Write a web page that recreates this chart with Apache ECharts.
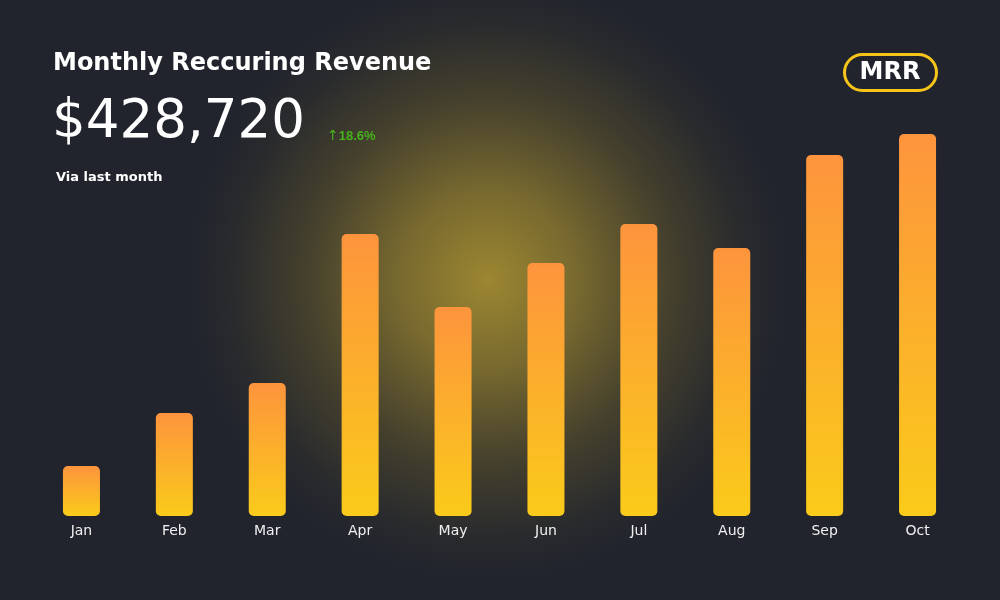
<!DOCTYPE html>
<html>
<head>
<meta charset="utf-8">
<script src="https://cdn.jsdelivr.net/npm/echarts@6/dist/echarts.min.js"></script>
<style>
html,body{margin:0;padding:0;background:#21242d;}
#chart{width:1000px;height:600px;}
</style>
</head>
<body>
<div id="chart"></div>
<script>
const months = ['Jan','Feb','Mar','Apr','May','Jun','Jul','Aug','Sep','Oct'];
const revenue = [50, 103, 133, 282, 209, 253, 292, 268, 361, 382];
const headline = '$428,720';
const changeArrow = '↑';
const changeValue = '18.6%';

const chart = echarts.init(document.getElementById('chart'));
chart.setOption({
  backgroundColor: '#21242d',
  animation: false,
  grid: { left: 35, right: 36, top: 116, bottom: 84 },
  xAxis: {
    type: 'category',
    data: months,
    axisLine: { show: false },
    axisTick: { show: false },
    axisLabel: { color: '#f0f0f0', fontSize: 14, fontFamily: 'DejaVu Sans', margin: 8 }
  },
  yAxis: {
    type: 'value', min: 0, max: 400,
    show: false, splitLine: { show: false }
  },
  graphic: [
    {
      type: 'circle', z: -10, silent: true,
      shape: { cx: 488, cy: 280, r: 300 },
      style: {
        fill: new echarts.graphic.RadialGradient(0.5, 0.5, 0.5, [
          { offset: 0, color: 'rgba(178,152,50,0.85)' },
          { offset: 0.3, color: 'rgba(172,147,48,0.62)' },
          { offset: 0.6, color: 'rgba(165,140,45,0.28)' },
          { offset: 0.85, color: 'rgba(160,135,45,0.07)' },
          { offset: 1, color: 'rgba(150,125,40,0)' }
        ])
      }
    },
    {
      type: 'text', left: 53, top: 52,
      style: { text: 'Monthly Reccuring Revenue', fill: '#ffffff', font: 'bold 24px "DejaVu Sans"' }
    },
    {
      type: 'text', left: 52, top: 97,
      style: { text: headline, fill: '#ffffff', font: '53px "DejaVu Sans"' }
    },
    {
      type: 'text', left: 327, top: 129,
      style: {
        text: '{a|' + changeArrow + '}{b|' + changeValue + '}',
        rich: {
          a: { fill: '#45b21b', font: '14px "DejaVu Sans"' },
          b: { fill: '#45b21b', font: 'bold 13px "Liberation Sans"' }
        }
      }
    },
    {
      type: 'text', left: 56, top: 171,
      style: { text: 'Via last month', fill: '#ffffff', font: 'bold 13px "DejaVu Sans"' }
    },
    {
      type: 'rect',
      shape: { x: 844.5, y: 54.5, width: 92, height: 36, r: 18 },
      style: { fill: 'transparent', stroke: '#f7c51a', lineWidth: 3 }
    },
    {
      type: 'text',
      style: { x: 890, y: 73, text: 'MRR', fill: '#ffffff', font: 'bold 24px "DejaVu Sans"', align: 'center', verticalAlign: 'middle' }
    }
  ],
  series: [{
    type: 'bar',
    data: revenue,
    barWidth: 37,
    itemStyle: {
      borderRadius: 5,
      color: new echarts.graphic.LinearGradient(0, 0, 0, 1, [
        { offset: 0, color: '#fd943d' },
        { offset: 1, color: '#facb1a' }
      ])
    }
  }]
});
</script>
</body>
</html>
